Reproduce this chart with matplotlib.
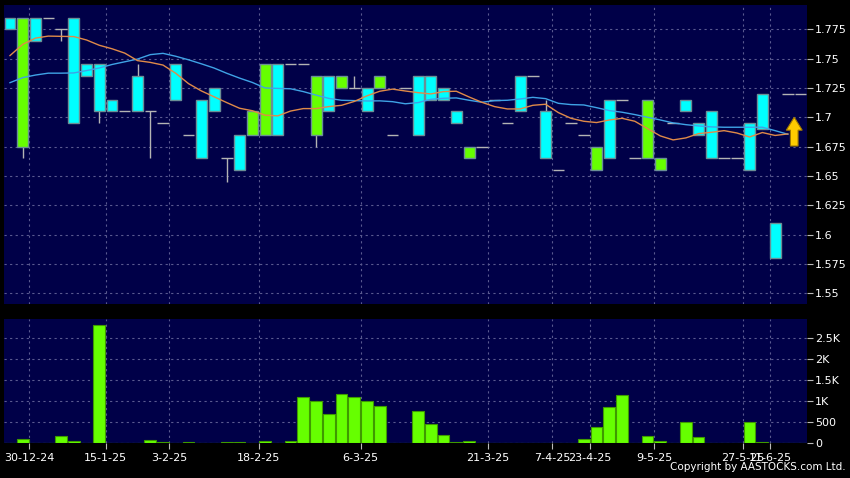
import matplotlib
matplotlib.use("Agg")
import matplotlib.pyplot as plt
from matplotlib.patches import FancyArrow
import numpy as np

# daily candles (index = slot on the chart)
opens = [1.785, 1.675, 1.785, 1.785, 1.775, 1.785, 1.745, 1.745, 1.715, 1.705,
         1.735, 1.705, 1.695, 1.745, 1.685, 1.715, 1.725, 1.665, 1.685, 1.685,
         1.685, 1.745, 1.745, 1.745, 1.685, 1.735, 1.725, 1.725, 1.725, 1.725,
         1.685, 1.725, 1.735, 1.735, 1.725, 1.705, 1.665, 1.675, 1.715, 1.695,
         1.735, 1.735, 1.705, 1.655, 1.695, 1.685, 1.655, 1.715, 1.715, 1.665,
         1.665, 1.655, 1.695, 1.715, 1.695, 1.705, 1.665, 1.665, 1.695, 1.720,
         1.610, 1.720, 1.720]
closes = [1.775, 1.785, 1.765, 1.785, 1.775, 1.695, 1.735, 1.705, 1.705, 1.705,
          1.705, 1.705, 1.695, 1.715, 1.685, 1.665, 1.705, 1.665, 1.655, 1.705,
          1.745, 1.685, 1.745, 1.745, 1.735, 1.705, 1.735, 1.725, 1.705, 1.735,
          1.685, 1.725, 1.685, 1.715, 1.715, 1.695, 1.675, 1.675, 1.715, 1.695,
          1.705, 1.735, 1.665, 1.655, 1.695, 1.685, 1.675, 1.665, 1.715, 1.665,
          1.715, 1.665, 1.695, 1.705, 1.685, 1.665, 1.665, 1.665, 1.655, 1.690,
          1.580, 1.720, 1.720]
highs = [1.785, 1.785, 1.785, 1.785, 1.775, 1.785, 1.745, 1.745, 1.715, 1.705,
         1.745, 1.705, 1.695, 1.745, 1.685, 1.715, 1.725, 1.665, 1.685, 1.705,
         1.745, 1.745, 1.745, 1.745, 1.735, 1.735, 1.735, 1.735, 1.725, 1.735,
         1.685, 1.725, 1.735, 1.735, 1.725, 1.705, 1.675, 1.675, 1.715, 1.695,
         1.735, 1.735, 1.715, 1.655, 1.695, 1.685, 1.675, 1.715, 1.715, 1.665,
         1.715, 1.665, 1.695, 1.715, 1.695, 1.705, 1.665, 1.665, 1.695, 1.720,
         1.610, 1.720, 1.720]
lows = [1.775, 1.665, 1.765, 1.785, 1.765, 1.695, 1.735, 1.695, 1.705, 1.705,
        1.705, 1.665, 1.695, 1.715, 1.685, 1.665, 1.705, 1.645, 1.655, 1.685,
        1.685, 1.685, 1.745, 1.745, 1.675, 1.705, 1.725, 1.725, 1.705, 1.725,
        1.685, 1.725, 1.685, 1.715, 1.715, 1.695, 1.665, 1.675, 1.715, 1.695,
        1.705, 1.735, 1.665, 1.655, 1.695, 1.685, 1.655, 1.665, 1.715, 1.665,
        1.665, 1.655, 1.695, 1.705, 1.685, 1.665, 1.665, 1.665, 1.655, 1.690,
        1.580, 1.720, 1.720]
volumes = [0, 95, 0, 0, 175, 48, 0, 2820, 0, 0,
           0, 80, 40, 0, 24, 0, 0, 24, 24, 0,
           64, 0, 56, 1104, 1000, 707, 1167, 1112, 1008, 897,
           0, 0, 762, 460, 190, 24, 48, 0, 0, 0,
           0, 0, 0, 0, 0, 95, 397, 873, 1143, 0,
           167, 71, 0, 500, 151, 0, 0, 0, 508, 24,
           0, 0, 0]
ma_short = [1.7526, 1.7622, 1.7675, 1.7692, 1.7690, 1.7688, 1.7659, 1.7614, 1.7584, 1.7547,
            1.7483, 1.7468, 1.7445, 1.7375, 1.7287, 1.7225, 1.7175, 1.7125, 1.7077, 1.7056,
            1.7018, 1.7012, 1.7053, 1.7074, 1.7074, 1.7091, 1.7102, 1.7135, 1.7183, 1.7222,
            1.7240, 1.7224, 1.7210, 1.7199, 1.7219, 1.7222, 1.7173, 1.7128, 1.7091, 1.7071,
            1.7071, 1.7102, 1.7111, 1.7040, 1.6991, 1.6966, 1.6955, 1.6977, 1.6991, 1.6966,
            1.6903, 1.6841, 1.6807, 1.6824, 1.6861, 1.6872, 1.6886, 1.6866, 1.6832, 1.6870,
            1.6845, 1.6858]
ma_long = [1.7295, 1.7338, 1.7360, 1.7376, 1.7376, 1.7378, 1.7398, 1.7420, 1.7450, 1.7473,
           1.7496, 1.7534, 1.7545, 1.7520, 1.7490, 1.7456, 1.7420, 1.7375, 1.7334, 1.7297,
           1.7250, 1.7246, 1.7243, 1.7219, 1.7189, 1.7161, 1.7145, 1.7142, 1.7139, 1.7140,
           1.7133, 1.7115, 1.7125, 1.7153, 1.7162, 1.7165, 1.7145, 1.7128, 1.7142, 1.7145,
           1.7156, 1.7170, 1.7159, 1.7119, 1.7108, 1.7105, 1.7082, 1.7057, 1.7043, 1.7023,
           1.7000, 1.6977, 1.6952, 1.6937, 1.6926, 1.6918, 1.6915, 1.6915, 1.6915, 1.6915,
           1.6886, 1.6855]

date_pos = [1.5, 7.5, 12.5, 19.5, 27.5, 37.5, 42.5, 45.5, 50.5, 57.5, 59.6]
date_labels = ['30-12-24', '15-1-25', '3-2-25', '18-2-25', '6-3-25', '21-3-25',
               '7-4-25', '23-4-25', '9-5-25', '27-5-25', '11-6-25']
price_ticks = [1.55, 1.575, 1.6, 1.625, 1.65, 1.675, 1.7, 1.725, 1.75, 1.775]
price_labels = ['1.55', '1.575', '1.6', '1.625', '1.65', '1.675', '1.7', '1.725', '1.75', '1.775']
vol_ticks = [0, 500, 1000, 1500, 2000, 2500]
vol_labels = ['0', '500', '1K', '1.5K', '2K', '2.5K']

# arrow marking the latest move
arrow_x, arrow_base, arrow_len = 61.5, 1.6755, 0.0245

BG = '#000048'
UP = '#66ff00'
DOWN = '#00ffff'
GRID = '#5a5a90'
TXT = 'white'

fig = plt.figure(figsize=(8.5, 4.78), dpi=100, facecolor='black')
ax = fig.add_axes([0.0047, 0.364, 0.9447, 0.6255], facecolor=BG)
axv = fig.add_axes([0.0047, 0.0722, 0.9447, 0.2605], facecolor=BG)

x = np.arange(len(opens))
for i in x:
    o, h, l, c = opens[i], highs[i], lows[i], closes[i]
    if h > l:
        ax.vlines(i, l, h, color='#b4b4b4', lw=1, zorder=3)
    if o == c:
        ax.hlines(o, i - 0.45, i + 0.45, color='#b4b4b4', lw=1, zorder=3)
    else:
        col = UP if c > o else DOWN
        ax.bar(i, abs(c - o), bottom=min(o, c), width=0.86, color=col,
               edgecolor='#6a8f96', linewidth=1, zorder=4)

xm = np.arange(len(ma_short))
ax.plot(xm, ma_long, color='#3fa3e6', lw=1, zorder=5)
ax.plot(xm, ma_short, color='#e08a48', lw=1, zorder=5)

ax.add_patch(FancyArrow(arrow_x, arrow_base, 0, arrow_len, width=0.6, head_width=1.25,
                        head_length=0.011, length_includes_head=True,
                        facecolor='#ffcc00', edgecolor='#a07800', lw=0.8, zorder=6))

axv.bar(x, volumes, width=0.92, color=UP, edgecolor='#3f9a00', linewidth=0.8, zorder=3)

for a in (ax, axv):
    a.set_xlim(-0.47, 62.5)
    for s in a.spines.values():
        s.set_visible(False)
    a.yaxis.tick_right()
    a.tick_params(axis='y', colors='#bbbbbb', labelcolor=TXT, labelsize=8, length=4,
                  width=0.8, pad=2)
    a.set_xticks(date_pos)
    a.grid(True, color=GRID, linestyle=(0, (2, 3)), linewidth=0.8, zorder=0)
    a.set_axisbelow(True)

ax.set_ylim(1.5408, 1.7957)
ax.set_yticks(price_ticks)
ax.set_yticklabels(price_labels)
ax.tick_params(axis='x', length=0, labelbottom=False)

axv.set_ylim(0, 2960)
axv.set_yticks(vol_ticks)
axv.set_yticklabels(vol_labels)
axv.set_xticklabels(date_labels)
axv.tick_params(axis='x', colors='#bbbbbb', labelcolor=TXT, labelsize=8, length=4,
                width=0.8, pad=3)

fig.text(0.995, 0.012, 'Copyright by AASTOCKS.com Ltd.', color=TXT, fontsize=7.5,
         ha='right', va='bottom')

fig.savefig('out.png', dpi=100, facecolor='black')
